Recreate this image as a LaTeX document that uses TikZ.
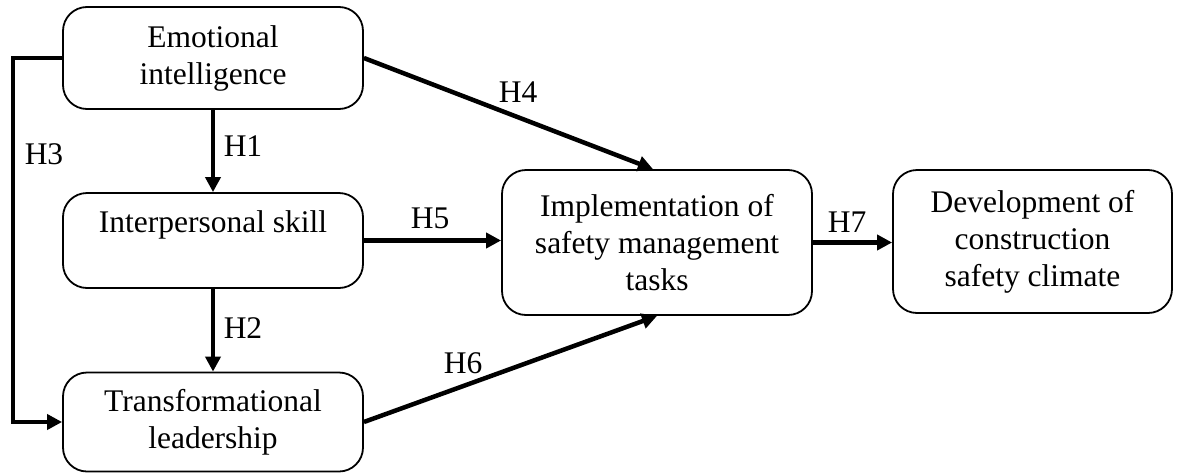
\documentclass[tikz,border=0pt]{standalone}
\usepackage{fontspec}
\setmainfont{Liberation Serif}
\usetikzlibrary{arrows.meta,calc}
\begin{document}
\begin{tikzpicture}[x=1pt,y=-1pt,
  box/.style={draw,line width=1.8pt,rounded corners=24pt,align=center,inner sep=0pt,
    font=\fontsize{31.5}{37}\selectfont},
  conn/.style={line width=4.5pt,-{Triangle[length=15pt,width=15pt]}},
  lab/.style={font=\fontsize{31.5}{37}\selectfont,inner sep=0pt}]
\useasboundingbox (0,0) rectangle (1177,474);
\node[box,minimum width=300pt,minimum height=102pt] (EI) at (213,58) {Emotional\\intelligence};
\node[box,minimum width=300pt,minimum height=95pt] (IS) at (213,240.5) {Interpersonal skill\\~};
\node[box,minimum width=300pt,minimum height=99pt] (TL) at (213,422) {Transformational\\leadership};
\node[box,minimum width=310pt,minimum height=145pt] (IM) at (657,242.5) {Implementation of\\safety management\\tasks};
\node[box,minimum width=279pt,minimum height=143pt] (DV) at (1032.5,241.5) {Development of\\construction\\safety climate};
\draw[conn] (EI.south) -- (IS.north);
\draw[conn] (IS.south) -- (TL.north);
\draw[conn] (EI.west) -- ++(-49,0) |- (TL.west);
\draw[conn] (EI.east) -- ([xshift=-4pt]IM.north);
\draw[conn] (IS.east) -- (IS.east -| IM.west);
\draw[conn] (TL.east) -- (IM.south);
\draw[conn] (IM.east) -- (IM.east -| DV.west);
\node[lab] (h1) at (243,146) {H1};
\node[lab] (h2) at (243,328) {H2};
\node[lab] (h3) at (44,154) {H3};
\node[lab] (h4) at (518,92) {H4};
\node[lab] (h5) at (430,218) {H5};
\node[lab] (h6) at (463,363) {H6};
\node[lab] (h7) at (847,222) {H7};
\end{tikzpicture}
\end{document}
